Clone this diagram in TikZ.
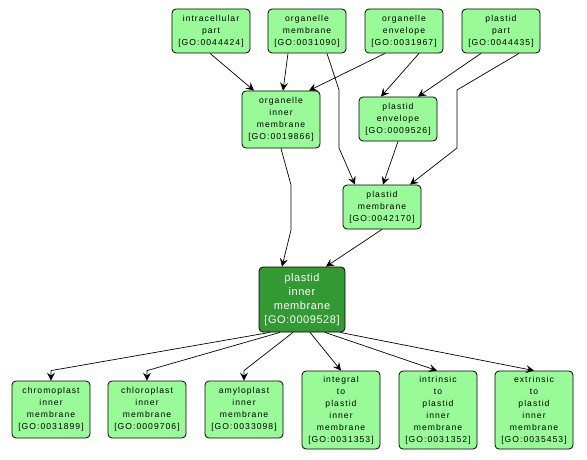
\documentclass[tikz,border=0pt]{standalone}
\usepackage{fontspec}
\setmainfont{Liberation Sans}
\newfontfamily\lightfont[LetterSpace=12]{Liberation Sans}
\newfontfamily\darkfont[LetterSpace=5]{Liberation Sans}
\usetikzlibrary{arrows.meta,calc}
\definecolor{lightgo}{HTML}{98FB98}
\definecolor{darkgo}{HTML}{339933}
\tikzset{
  term/.style={draw=black, line width=0.8pt, rounded corners=4pt, fill=lightgo, align=center,
    minimum width=78pt, inner sep=0pt, font=\lightfont\fontsize{8.6}{12}\selectfont},
  focus/.style={draw=black, line width=0.8pt, rounded corners=4pt, fill=darkgo, text=white, align=center,
    minimum width=86pt, minimum height=65pt, inner sep=0pt, font=\darkfont\fontsize{11}{14}\selectfont},
  h44/.style={minimum height=44pt},
  h57/.style={minimum height=57pt},
  h78/.style={minimum height=78pt},
  conn/.style={draw=black, line width=0.7pt, -{Stealth[length=8pt,width=8pt,inset=3pt]}},
}
\begin{document}
\begin{tikzpicture}[x=1pt,y=-1pt]
\useasboundingbox (0,0) rectangle (587,460);
% top row
\node[term,h44] (ip) at (211,31) {intracellular\\part\\{}[GO:0044424]};
\node[term,h44] (om) at (307,31) {organelle\\membrane\\{}[GO:0031090]};
\node[term,h44] (oe) at (404,31) {organelle\\envelope\\{}[GO:0031967]};
\node[term,h44] (pp) at (501,31) {plastid\\part\\{}[GO:0044435]};
% middle
\node[term,h57] (oim) at (281,119.5) {organelle\\inner\\membrane\\{}[GO:0019866]};
\node[term,h44] (pe) at (398,119) {plastid\\envelope\\{}[GO:0009526]};
\node[term,h44] (pm) at (382,207) {plastid\\membrane\\{}[GO:0042170]};
\node[focus] (pim) at (302,299.5) {plastid\\inner\\membrane\\{}[GO:0009528]};
% bottom row
\node[term,h57] (chr) at (51,409.5) {chromoplast\\inner\\membrane\\{}[GO:0031899]};
\node[term,h57] (chl) at (147,409.5) {chloroplast\\inner\\membrane\\{}[GO:0009706]};
\node[term,h57] (amy) at (244,409.5) {amyloplast\\inner\\membrane\\{}[GO:0033098]};
\node[term,h78] (int) at (341,410) {integral\\to\\plastid\\inner\\membrane\\{}[GO:0031353]};
\node[term,h78] (intr) at (438,410) {intrinsic\\to\\plastid\\inner\\membrane\\{}[GO:0031352]};
\node[term,h78] (ext) at (534,410) {extrinsic\\to\\plastid\\inner\\membrane\\{}[GO:0035453]};
% connectors
\draw[conn] ([xshift=-1pt]ip.south) -- ([xshift=-27pt]oim.north);
\draw[conn] ([xshift=-19pt]om.south) -- ([xshift=2pt]oim.north);
\draw[conn] ([xshift=20pt]om.south) -- (339,90) -- (339,148) -- ([xshift=-27pt]pm.north);
\draw[conn] ([xshift=-19pt]oe.south) -- ([xshift=28pt]oim.north);
\draw[conn] ([xshift=15pt]oe.south) -- ([xshift=-17pt]pe.north);
\draw[conn] ([xshift=-20pt]pp.south) -- ([xshift=20pt]pe.north);
\draw[conn] ([xshift=18pt]pp.south) -- (457,90) -- (457,148) -- ([xshift=28pt]pm.north);
\draw[conn] (pe.south) -- ([xshift=1pt]pm.north);
\draw[conn] (oim.south) -- (291,185) -- (291,230) -- ([xshift=-20pt]pim.north);
\draw[conn] (pm.south) -- ([xshift=24pt]pim.north);
\draw[conn] ([xshift=-32pt]pim.south) -- ([yshift=10pt]chr.north) -- (chr.north);
\draw[conn] ([xshift=-22pt]pim.south) -- ([yshift=10pt]chl.north) -- (chl.north);
\draw[conn] ([xshift=-9pt]pim.south) -- ([yshift=10pt]amy.north) -- (amy.north);
\draw[conn] ([xshift=8pt]pim.south) -- (int.north);
\draw[conn] ([xshift=23pt]pim.south) -- ([xshift=-1pt]intr.north);
\draw[conn] ([xshift=38pt]pim.south) -- (ext.north);
\end{tikzpicture}
\end{document}
